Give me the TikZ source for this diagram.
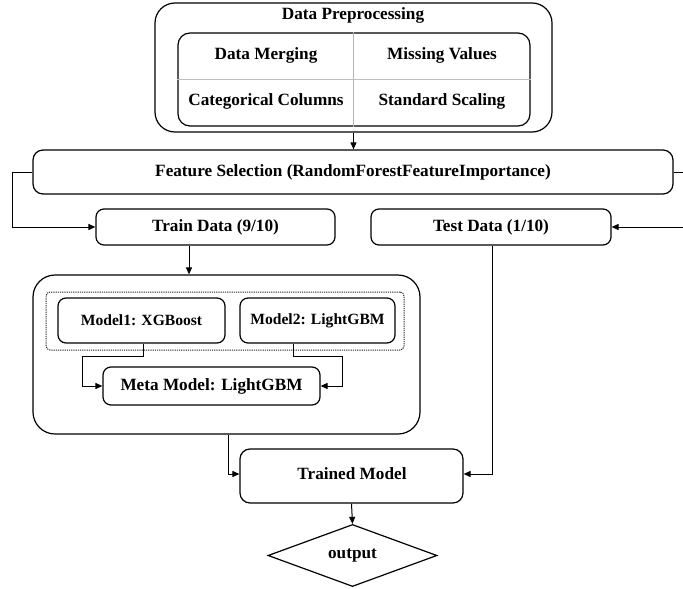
\documentclass[tikz,border=0pt]{standalone}
\usepackage{fontspec}
\setmainfont{Liberation Serif}
\usetikzlibrary{arrows.meta,shapes.geometric}
\definecolor{gridblue}{RGB}{165,180,225}
\definecolor{gridgray}{RGB}{190,190,195}
\begin{document}
\begin{tikzpicture}[x=1pt,y=-1pt,
  txt/.style={font=\bfseries\fontsize{17.2}{20}\selectfont, inner sep=0pt},
  smalltxt/.style={font=\bfseries\fontsize{15.6}{18}\selectfont, inner sep=0pt},
  box/.style={draw, line width=1.2pt, inner sep=0pt, rounded corners=#1},
  box/.default=8pt,
  arr/.style={line width=1pt, -{Triangle[length=7pt,width=6pt]}},
  link/.style={line width=1pt}]
\useasboundingbox (0,0) rectangle (683,589);

% preprocessing block with its 2x2 table
\node[box=20pt, minimum width=397pt, minimum height=129pt] (pre) at (353.5,67.5) {};
\node[txt] (pretitle) at (353,15) {Data Preprocessing};
\node[box=12pt, minimum width=352pt, minimum height=93pt] (tab) at (354,79.5) {};
\draw[gridgray, line width=0.8pt] (tab.west) -- (tab.east);
\draw[gridblue, line width=0.8pt] ([xshift=-1pt]tab.north) -- ([xshift=-1pt]tab.south);
\node[txt] (merge) at (266,55) {Data Merging};
\node[txt] (missing) at (442,55) {Missing Values};
\node[txt] (categ) at (266,101) {Categorical Columns};
\node[txt] (scale) at (442,101) {Standard Scaling};

% feature selection and data split
\node[box=10pt, minimum width=640pt, minimum height=44pt, txt] (fs) at (353,172)
  {Feature Selection (RandomForestFeatureImportance)};
\node[box=8pt, minimum width=239pt, minimum height=36pt, txt] (train) at (215.5,227) {Train Data (9/10)};
\node[box=8pt, minimum width=240pt, minimum height=36pt, txt] (test) at (491,227) {Test Data (1/10)};

% stacking ensemble
\node[box=22pt, minimum width=387pt, minimum height=159pt] (big) at (226.5,354.5) {};
\node[draw, black!85, line width=1pt, dash pattern=on 1.2pt off 1pt, rounded corners=4pt,
  minimum width=358pt, minimum height=58pt, inner sep=0pt] (base) at (225,321) {};
\node[box=8pt, minimum width=167pt, minimum height=45pt, smalltxt] (m1) at (141.5,320.5) {Model1: XGBoost};
\node[box=8pt, minimum width=155pt, minimum height=45pt, smalltxt] (m2) at (317.5,320.5) {Model2: LightGBM};
\node[box=8pt, minimum width=217pt, minimum height=38pt, txt] (meta) at (211.5,386) {Meta Model: LightGBM};

% final model and output
\node[box=10pt, minimum width=223pt, minimum height=54pt] (tm) at (351.5,476) {};
\node[txt] (tmtext) at (352,474) {Trained Model};
\node[draw, diamond, line width=1.2pt, minimum width=169pt, minimum height=55pt, inner sep=0pt, txt]
  (out) at (352.5,555.5) {output};

% connectors
\draw[arr] (pre.south) -- (pre.south |- fs.north);
\draw[arr] (fs.west) -- ++(-20,0) |- (train.west);
\draw[arr] (fs.east) -- ++(20,0) |- (test.east);
\draw[arr] ([xshift=-26.5pt]train.south) -- ([xshift=-26.5pt]train.south |- big.north);
\draw[arr] ([xshift=1.5pt]m1.south) -- ++(0,13) -| (82,386) -- (meta.west);
\draw[arr] ([xshift=-24.5pt]m2.south) -- ++(0,13) -| (342,386) -- (meta.east);
\draw[arr] ([xshift=1.5pt]big.south) |- (tm.west |- tmtext);
\draw[arr] ([xshift=1pt]test.south) |- (tm.east |- tmtext);
\draw[arr] (tm.south) -- (out.north);
\end{tikzpicture}
\end{document}
